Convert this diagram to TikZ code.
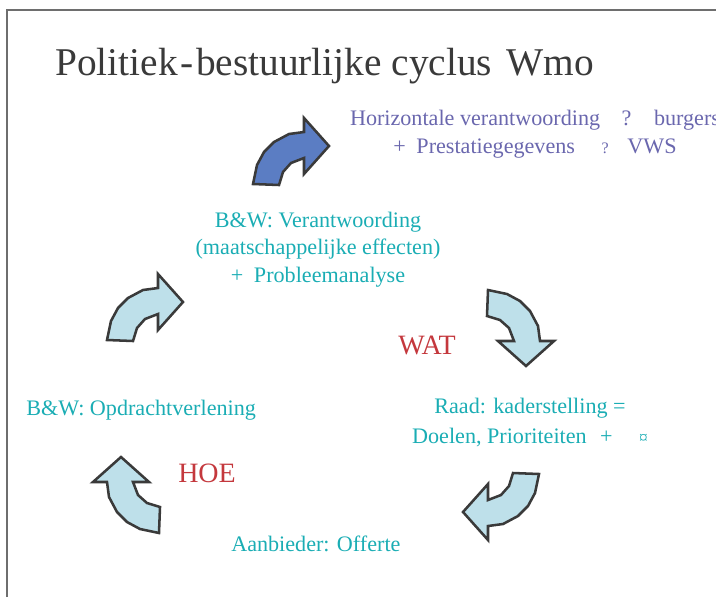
\documentclass[tikz,border=0pt]{standalone}
\usepackage{fontspec}
\setmainfont{Liberation Serif}
\usetikzlibrary{positioning}
\definecolor{Ink}{HTML}{3A3A3A}
\definecolor{Frame}{HTML}{6E6E6E}
\definecolor{Teal}{HTML}{1AADB4}
\definecolor{Violet}{HTML}{6A67AE}
\definecolor{Signal}{HTML}{C4383D}
\definecolor{Ice}{HTML}{BEE0EA}
\definecolor{Royal}{HTML}{5B7DC3}
\tikzset{
  txt/.style={inner sep=0pt,font=\fontsize{16.6}{21}\selectfont,text=Teal,align=center,anchor=base},
  cue/.style={inner sep=0pt,font=\fontsize{21}{25}\selectfont,text=Signal,anchor=base west},
  turn/.style={draw=Ink,fill=Ice,line width=1.9pt},
  pics/bend/.style={code={
    \path[pic actions] (-38,32) -- (-12,33) -- (-8,20) -- (0,11) -- (13,6) -- (13,22) -- (38,-6)
      -- (13,-34) -- (13,-20) -- (-2,-18) -- (-17,-10) -- (-27,0) -- (-34,13) -- cycle;
  }}
}
\begin{document}
\begin{tikzpicture}[x=0.75pt,y=-0.75pt]
  \useasboundingbox (0,0) rectangle (716,597);
  \draw[Frame,line width=1.5pt] (7,597) -- (7,10) -- (716,10);

  \node[anchor=base west,inner sep=0pt,font=\fontsize{29.5}{36}\selectfont,text=Ink] (title) at (55,75)
    {Politiek\kern2pt-\kern2pt bestuurlijke cyclus\hspace{11pt}Wmo};

  % the cycle
  \pic[turn,fill=Royal] at (291,152) {bend};
  \pic[turn] at (145,308) {bend};
  \pic[turn,rotate=-90] at (520,328) {bend};
  \pic[turn,rotate=180] at (501,506) {bend};
  \pic[turn,rotate=90] at (127,495) {bend};

  % base = last line
  \node[txt,text=Violet] (report) at (535,153)
    {Horizontale verantwoording\hspace{16pt}?\hspace{17pt}burgers\\
     +\hspace{8pt}Prestatiegegevens\hspace{20pt}{\fontsize{12}{12}\selectfont ?}\hspace{14pt}VWS};
  \node[txt,font=\fontsize{16.6}{20.5}\selectfont] (account) at (318,282)
    {B\&W: Verantwoording\\(maatschappelijke effecten)\\+\hspace{8pt}Probleemanalyse};
  \node[txt,font=\fontsize{16.6}{22.5}\selectfont] (council) at (530,443)
    {Raad: kaderstelling =\\Doelen, Prioriteiten\hspace{10pt}+\hspace{20pt}{\fontsize{13}{13}\selectfont ¤}};
  \node[txt,anchor=base west] (order) at (26,415) {B\&W: Opdrachtverlening};
  \node[txt,anchor=base west] (offer) at (231,551) {Aanbieder: Offerte};
  \node[cue] (what) at (398,354) {WAT};
  \node[cue] (how) at (178,482) {HOE};
\end{tikzpicture}
\end{document}
